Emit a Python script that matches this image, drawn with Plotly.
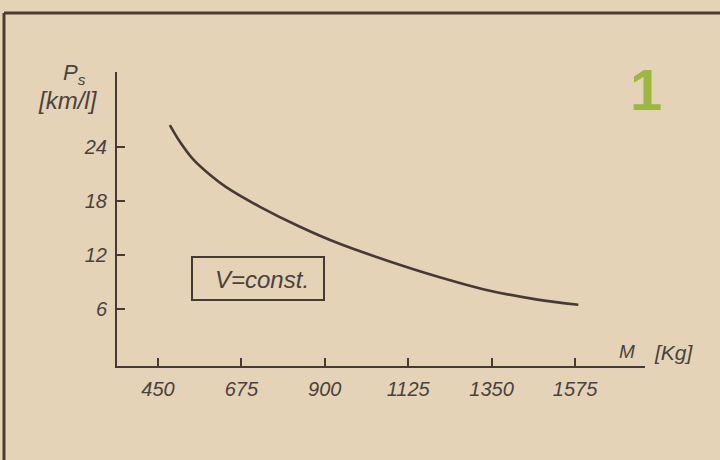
import plotly.graph_objects as go

# Specific range P_s (km/l) versus vehicle mass M (kg) at constant speed
mass_kg = [482, 510, 545, 590, 635, 725, 830, 940, 1075, 1210, 1330, 1470, 1584]
range_kml = [26.4, 24.5, 22.6, 20.9, 19.5, 17.35, 15.2, 13.25, 11.3, 9.55, 8.2, 7.1, 6.5]

x_ticks = [450, 675, 900, 1125, 1350, 1575]
y_ticks = [6, 12, 18, 24]

W, H = 720, 460
INK = "#463a34"
PAPER = "#e4d3b7"
FONT = "Liberation Sans"


def px(x):
    return x / W


def py(y):
    return 1 - y / H


fig = go.Figure()
fig.add_trace(go.Scatter(
    x=mass_kg, y=range_kml, mode="lines",
    line=dict(color=INK, width=2.6, shape="spline", smoothing=1.0),
    hoverinfo="skip", showlegend=False,
))

axis_font = dict(family=FONT, size=20, color="#4a423c", style="italic")

fig.update_layout(
    width=W, height=H,
    margin=dict(l=0, r=0, t=0, b=0),
    paper_bgcolor=PAPER, plot_bgcolor=PAPER,
    xaxis=dict(
        domain=[px(117), px(645)], range=[339.4, 1763.8],
        tickvals=x_ticks, ticktext=[str(v) for v in x_ticks],
        ticks="inside", ticklen=8, tickwidth=1.6, tickcolor=INK,
        showline=True, linecolor=INK, linewidth=2,
        showgrid=False, zeroline=False, tickfont=axis_font,
        ticklabelstandoff=4,
    ),
    yaxis=dict(
        domain=[py(366), py(72)], range=[-0.28, 32.28],
        tickvals=y_ticks, ticktext=[str(v) for v in y_ticks],
        ticks="inside", ticklen=8, tickwidth=1.6, tickcolor=INK,
        showline=True, linecolor=INK, linewidth=2,
        showgrid=False, zeroline=False, tickfont=axis_font,
        ticklabelstandoff=4,
    ),
)

# outer frame: top rule and left rule
fig.add_shape(type="line", xref="paper", yref="paper",
              x0=px(4), x1=px(720), y0=py(13), y1=py(13),
              line=dict(color="#503a30", width=3))
fig.add_shape(type="line", xref="paper", yref="paper",
              x0=px(4), x1=px(4), y0=py(13), y1=py(460),
              line=dict(color="#503a30", width=3))

# boxed condition label
fig.add_shape(type="rect", xref="paper", yref="paper",
              x0=px(192), x1=px(324), y0=py(300), y1=py(257),
              line=dict(color=INK, width=2))

texts = [
    ("V=const.", 262, 279, 24, "#4a423c", "italic", "normal", FONT),
    ("P<sub>s</sub>", 74, 74, 22, "#4a423c", "italic", "normal", FONT),
    ("[km/l]", 68, 101, 24, "#4a423c", "italic", "normal", FONT),
    ("M", 627, 351, 19, "#4a423c", "italic", "normal", FONT),
    ("[Kg]", 674, 352, 21, "#4a423c", "italic", "normal", FONT),
    ("1", 646, 89, 58, "#9cb83e", "normal", "bold", FONT),
]
for txt, x, y, size, color, style, weight, family in texts:
    fig.add_annotation(
        text=txt, xref="paper", yref="paper", x=px(x), y=py(y),
        xanchor="center", yanchor="middle", showarrow=False,
        font=dict(family=family, size=size, color=color, style=style, weight=weight),
    )

fig.write_html("out.html")
